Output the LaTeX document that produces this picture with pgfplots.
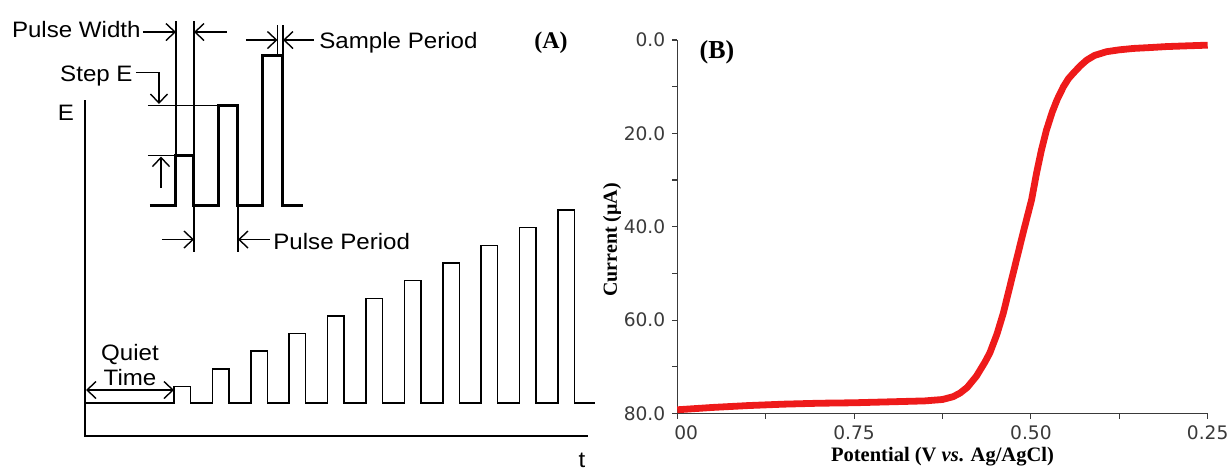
\documentclass[border=0pt]{standalone}
\usepackage{pgfplots}
\pgfplotsset{compat=1.18}
\usepackage{fontspec}
\setmainfont{Liberation Serif}
\newfontfamily\asans[FakeStretch=1.08]{Liberation Sans}
\newfontfamily\dvs{DejaVu Sans}
\usetikzlibrary{arrows.meta}
\definecolor{curvered}{HTML}{EE1A1A}
\definecolor{axgray}{HTML}{3A3A3A}
\tikzset{
  ann/.style={line width=0.7bp, black},
  arr/.style={ann, -{Straight Barb[length=4.5bp,width=8.5bp,line width=0.7bp]}},
  darr/.style={ann, {Straight Barb[length=4.5bp,width=8.5bp,line width=0.7bp]}-{Straight Barb[length=4.5bp,width=8.5bp,line width=0.7bp]}},
  lab/.style={font=\asans\fontsize{11.2}{13}\selectfont, inner sep=0pt}
}
\begin{document}
\begin{tikzpicture}
\useasboundingbox (0,0) rectangle (615.5bp,-235bp);
% ---------------- Panel A (schematic, pixel coordinates) ----------------
\begin{axis}[at={(0bp,-235bp)}, anchor=south west, scale only axis,
  width=300bp, height=235bp, xmin=0, xmax=600, ymin=0, ymax=470,
  y dir=reverse, hide axis, clip=false]
% axes E and t
\addplot[black, line width=0.75bp, line join=miter] coordinates {(85,100) (85,436) (588,436)};
% lower waveform (quiet time + 11 growing pulses)
\addplot[black, line width=0.75bp, line join=miter] coordinates {
(85,403) (174,403) (174,386.5) (190.5,386.5) (190.5,403)
(212.4,403) (212.4,368.9) (228.9,368.9) (228.9,403)
(250.8,403) (250.8,351.2) (267.3,351.2) (267.3,403)
(289.2,403) (289.2,333.6) (305.7,333.6) (305.7,403)
(327.6,403) (327.6,315.9) (344.1,315.9) (344.1,403)
(366,403) (366,298.3) (382.5,298.3) (382.5,403)
(404.4,403) (404.4,280.6) (420.9,280.6) (420.9,403)
(442.8,403) (442.8,263) (459.3,263) (459.3,403)
(481.2,403) (481.2,245.3) (497.7,245.3) (497.7,403)
(519.6,403) (519.6,227.7) (536.1,227.7) (536.1,403)
(558,403) (558,210) (574.5,210) (574.5,403) (595,403)};
% upper detail waveform (bold)
\addplot[black, line width=1.5bp, line join=miter] coordinates {
(150,205.5) (176,205.5) (176,155.5) (194,155.5) (194,205.5)
(218.5,205.5) (218.5,105.5) (238,105.5) (238,205.5)
(263,205.5) (263,55) (283,55) (283,205.5) (303,205.5)};
% pulse width
\draw[ann] (axis cs:176,21) -- (axis cs:176,155.5);
\draw[ann] (axis cs:194,21) -- (axis cs:194,155.5);
\draw[arr] (axis cs:143,32) -- (axis cs:176,32);
\draw[arr] (axis cs:227,32) -- (axis cs:194,32);
\node[lab, anchor=base east] at (axis cs:141,37.7) {Pulse Width};
% sample period
\draw[ann] (axis cs:277.5,25) -- (axis cs:277.5,55);
\draw[ann] (axis cs:283,25) -- (axis cs:283,55);
\draw[arr] (axis cs:246,40) -- (axis cs:277.5,40);
\draw[arr] (axis cs:314,40) -- (axis cs:283,40);
\node[lab, anchor=base west] at (axis cs:319,48) {Sample Period};
% step E
\draw[arr] (axis cs:136,72.5) -- (axis cs:159,72.5) -- (axis cs:159,104);
\draw[ann] (axis cs:148,105.5) -- (axis cs:218.5,105.5);
\node[lab, anchor=base east] at (axis cs:133,81) {Step E};
% pulse amplitude
\draw[ann] (axis cs:148,155.5) -- (axis cs:176,155.5);
\draw[arr] (axis cs:161,188) -- (axis cs:161,156.5);
% pulse period
\draw[ann] (axis cs:194,205.5) -- (axis cs:194,252);
\draw[ann] (axis cs:238,205.5) -- (axis cs:238,252);
\draw[arr] (axis cs:162,239.5) -- (axis cs:194,239.5);
\draw[arr] (axis cs:270,239.5) -- (axis cs:238,239.5);
\node[lab, anchor=base west] at (axis cs:273,249.5) {Pulse Period};
% quiet time
\draw[darr] (axis cs:86,390) -- (axis cs:174,390);
\node[lab, anchor=base] at (axis cs:130,360) {Quiet};
\node[lab, anchor=base] at (axis cs:130,385) {Time};
% axis names
\node[lab, anchor=base] at (axis cs:66,120.5) {E};
\node[lab, anchor=base] at (axis cs:582,467) {t};
\node[font=\bfseries\fontsize{12}{14}\selectfont, inner sep=0pt] at (axis cs:551,43) {(A)};
\end{axis}
% ---------------- Panel B (hydrodynamic voltammogram) ----------------
\begin{axis}[at={(338.65bp,-206.75bp)}, anchor=south west, scale only axis,
  width=265.2bp, height=186.75bp,
  xmin=0.25, xmax=1, ymin=0, ymax=80, x dir=reverse, y dir=reverse,
  axis x line*=bottom, axis y line*=left,
  axis line style={axgray, line width=0.75bp},
  xtick={0.25,0.375,0.5,0.625,0.75,0.875,1},
  xticklabels={0.25,,0.50,,0.75,,\phantom{1.}00},
  ytick={0,10,20,30,40,50,60,70,80},
  yticklabels={0.0,,20.0,,40.0,,60.0,,80.0},
  tick align=outside, major tick length=2.5bp,
  tick style={axgray, line width=0.6bp},
  ticklabel style={font=\dvs\fontsize{9.35}{11}\selectfont, text=axgray},
  xlabel={\bfseries Potential (V \textit{vs}. Ag/AgCl)},
  xlabel style={font=\fontsize{10.3}{12}\selectfont, anchor=base, at={(axis description cs:0.5,-0.129)}},
  ylabel={\bfseries Current (µA)},
  ylabel style={font=\fontsize{10}{12}\selectfont, anchor=center, rotate=0, at={(axis description cs:-0.123,0.465)}},
  clip=false]
\addplot[curvered, line width=3.4bp, line join=round, line cap=butt] coordinates {
(1.000,79.2) (0.950,78.7) (0.900,78.3) (0.850,78.0) (0.800,77.8)
(0.750,77.7) (0.700,77.5) (0.650,77.3) (0.625,77.0) (0.610,76.4)
(0.600,75.6) (0.590,74.4) (0.577,72.0) (0.565,69.0) (0.558,67.0)
(0.548,63.0) (0.539,58.5) (0.525,49.9) (0.511,41.3) (0.499,34.2)
(0.492,28.5) (0.485,23.5) (0.478,19.3) (0.470,15.5) (0.463,12.8)
(0.454,10.0) (0.447,8.3) (0.440,7.1) (0.430,5.5) (0.421,4.3)
(0.410,3.3) (0.393,2.5) (0.375,2.1) (0.355,1.8) (0.330,1.6)
(0.308,1.4) (0.280,1.25) (0.250,1.1)};
\node[font=\bfseries\fontsize{13}{15}\selectfont, inner sep=0pt] at (axis cs:0.944,2.6) {(B)};
\end{axis}
\end{tikzpicture}
\end{document}
